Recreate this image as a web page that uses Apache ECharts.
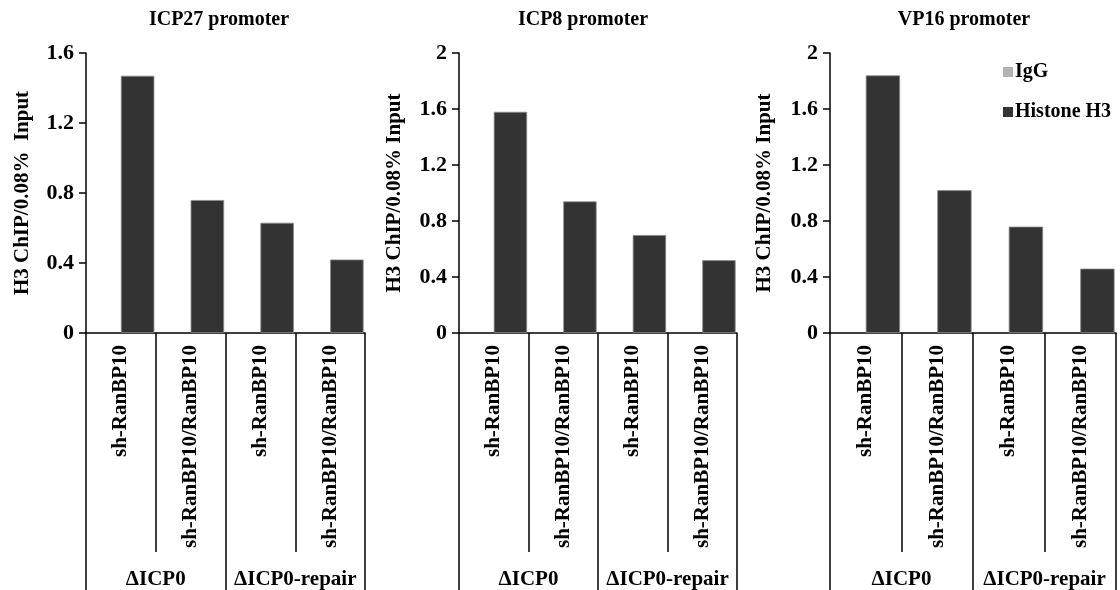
<!DOCTYPE html>
<html>
<head>
<meta charset="utf-8">
<script src="https://cdn.jsdelivr.net/npm/echarts@6/dist/echarts.min.js"></script>
<style>
html,body{margin:0;padding:0;background:#fff;}
#c{width:1120px;height:590px;}
</style>
</head>
<body>
<div id="c"></div>
<script>
// ---- data ----
const categories = ['sh-RanBP10', 'sh-RanBP10/RanBP10', 'sh-RanBP10', 'sh-RanBP10/RanBP10'];
const groups = ['\u0394ICP0', '\u0394ICP0-repair'];
const titles = ['ICP27 promoter', 'ICP8 promoter', 'VP16 promoter'];
const yNames = ['H3 ChIP/0.08%  Input', 'H3 ChIP/0.08% Input', 'H3 ChIP/0.08% Input'];
const yMax = [1.6, 2, 2];
const seriesNames = ['IgG', 'Histone H3'];
const igg_icp27 = [0, 0, 0, 0];
const h3_icp27 = [1.47, 0.76, 0.63, 0.42];
const igg_icp8 = [0, 0, 0, 0];
const h3_icp8 = [1.58, 0.94, 0.70, 0.52];
const igg_vp16 = [0, 0, 0, 0];
const h3_vp16 = [1.84, 1.02, 0.76, 0.46];

const iggData = [igg_icp27, igg_icp8, igg_vp16];
const h3Data = [h3_icp27, h3_icp8, h3_vp16];

// ---- layout ----
const FONT = "'Liberation Serif', 'Times New Roman', serif";
const grids = [
  {left: 86, top: 53, width: 279, height: 280},
  {left: 459, top: 53, width: 278, height: 280},
  {left: 830, top: 53, width: 286, height: 280}
];
const titleX = [214, 578, 959];
const nameGaps = [53, 54, 55];

const chart = echarts.init(document.getElementById('c'), null, {renderer: 'canvas'});

const option = {
  backgroundColor: '#fff',
  animation: false,
  textStyle: {fontFamily: FONT, fontWeight: 'bold', color: '#000'},
  title: titles.map((t, i) => ({
    text: t, left: titleX[i], top: 5, textAlign: 'center',
    textStyle: {fontFamily: FONT, fontWeight: 'bold', fontSize: 20, color: '#000'}
  })),
  legend: {
    data: seriesNames, orient: 'vertical', left: 998, top: 57,
    icon: 'rect', itemWidth: 10, itemHeight: 10, itemGap: 20,
    itemStyle: {borderWidth: 0},
    textStyle: {fontFamily: FONT, fontWeight: 'bold', fontSize: 20, color: '#000', padding: [0, 0, 0, -3]}
  },
  grid: grids.map(g => Object.assign({containLabel: false}, g)),
  xAxis: [],
  yAxis: [],
  series: []
};

for (let i = 0; i < 3; i++) {
  option.xAxis.push({
    type: 'category', gridIndex: i, data: categories, position: 'bottom',
    axisLine: {show: true, lineStyle: {color: '#000', width: 1.5}},
    axisTick: {show: true, length: 219, interval: 0, alignWithLabel: false, lineStyle: {color: '#000', width: 1.5}},
    axisLabel: {interval: 0, rotate: 90, margin: 12, fontFamily: FONT, fontWeight: 'bold', fontSize: 21, color: '#000'}
  });
  option.xAxis.push({
    type: 'category', gridIndex: i, data: groups, position: 'bottom',
    axisLine: {show: false},
    axisTick: {show: true, length: 257, interval: 0, alignWithLabel: false, lineStyle: {color: '#000', width: 1.5}},
    axisLabel: {interval: 0, margin: 236, fontFamily: FONT, fontWeight: 'bold', fontSize: 21, color: '#000'}
  });
  option.yAxis.push({
    type: 'value', gridIndex: i, min: 0, max: yMax[i], interval: 0.4,
    name: yNames[i], nameLocation: 'middle', nameRotate: 90, nameGap: nameGaps[i],
    nameTextStyle: {fontFamily: FONT, fontWeight: 'bold', fontSize: 21, color: '#000'},
    axisLine: {show: true, lineStyle: {color: '#000', width: 1.5}},
    axisTick: {show: true, length: 7, lineStyle: {color: '#000', width: 1.5}},
    splitLine: {show: false},
    axisLabel: {margin: 12, fontFamily: FONT, fontWeight: 'bold', fontSize: 22, color: '#000',
      formatter: v => String(Math.round(v * 10) / 10)}
  });
  option.series.push({
    name: seriesNames[0], type: 'bar', xAxisIndex: i * 2, yAxisIndex: i,
    data: iggData[i], barGap: '0%', barCategoryGap: '4%',
    itemStyle: {color: '#b3b3b3'}
  });
  option.series.push({
    name: seriesNames[1], type: 'bar', xAxisIndex: i * 2, yAxisIndex: i,
    data: h3Data[i], barGap: '0%', barCategoryGap: '4%',
    itemStyle: {color: '#333333', borderColor: '#8a8a8a', borderWidth: 0.8}
  });
}

chart.setOption(option);
</script>
</body>
</html>
